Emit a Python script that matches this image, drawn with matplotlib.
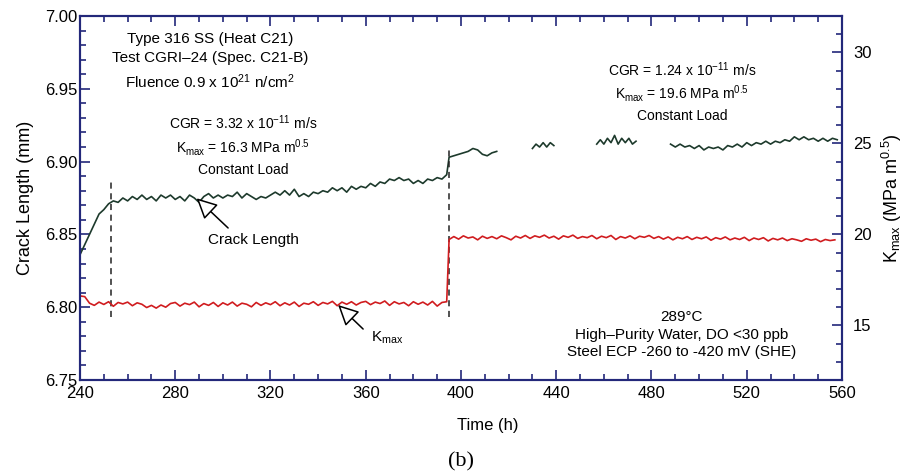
import numpy as np
import matplotlib
matplotlib.use("Agg")
import matplotlib.pyplot as plt
from matplotlib.ticker import MultipleLocator

plt.rcParams["font.family"] = ["Liberation Sans", "DejaVu Sans"]
plt.rcParams["mathtext.fontset"] = "custom"
plt.rcParams["mathtext.rm"] = "Liberation Sans"
plt.rcParams["mathtext.it"] = "Liberation Sans:italic"
plt.rcParams["mathtext.bf"] = "Liberation Sans:bold"

# crack length (mm), constant load at 16.3 MPa m^0.5
crack_time_1 = np.arange(240, 396, 2)
crack_len_1 = [
    6.836, 6.843, 6.850, 6.857, 6.864, 6.867, 6.871, 6.873, 6.872, 6.875,
    6.873, 6.876, 6.874, 6.877, 6.874, 6.876, 6.873, 6.877, 6.875, 6.877,
    6.874, 6.876, 6.873, 6.877, 6.875, 6.872, 6.876, 6.878, 6.875, 6.877,
    6.875, 6.877, 6.876, 6.879, 6.875, 6.878, 6.876, 6.874, 6.876, 6.875,
    6.877, 6.879, 6.877, 6.880, 6.877, 6.881, 6.876, 6.878, 6.876, 6.879,
    6.878, 6.880, 6.879, 6.882, 6.880, 6.882, 6.879, 6.883, 6.881, 6.883,
    6.882, 6.885, 6.883, 6.886, 6.885, 6.888, 6.887, 6.889, 6.887, 6.888,
    6.885, 6.887, 6.885, 6.888, 6.887, 6.889, 6.888, 6.891,
]
# after load increase to 19.6 MPa m^0.5 (data logger dropouts leave gaps)
crack_time_2 = np.arange(395, 417, 2)
crack_len_2 = [6.903, 6.904, 6.905, 6.906, 6.907, 6.909, 6.908, 6.905, 6.904, 6.906, 6.907]
crack_time_3 = np.arange(430, 440, 1.5)
crack_len_3 = [6.909, 6.912, 6.910, 6.913, 6.910, 6.913, 6.911]
crack_time_4 = np.arange(457, 475, 1.5)
crack_len_4 = [6.912, 6.915, 6.912, 6.916, 6.913, 6.918, 6.912, 6.916, 6.913, 6.916, 6.912, 6.914]
crack_time_5 = np.arange(488, 560, 2)
crack_len_5 = [
    6.912, 6.910, 6.912, 6.910, 6.911, 6.909, 6.911, 6.908, 6.910, 6.909,
    6.910, 6.908, 6.911, 6.910, 6.912, 6.910, 6.913, 6.911, 6.913, 6.912,
    6.914, 6.912, 6.914, 6.913, 6.915, 6.914, 6.917, 6.915, 6.917, 6.915,
    6.916, 6.914, 6.916, 6.914, 6.916, 6.915,
]

# Kmax (MPa m^0.5)
kmax_time_1 = np.arange(240, 396, 2)
kmax_1 = [
    16.62, 16.58, 16.22, 16.10, 16.28, 16.15, 16.30, 16.05, 16.26, 16.18,
    16.28, 16.08, 16.24, 16.16, 15.98, 16.10, 15.95, 16.12, 16.00, 16.20,
    16.26, 16.06, 16.22, 16.14, 16.28, 16.02, 16.20, 16.10, 16.26, 16.04,
    16.24, 16.12, 16.28, 16.06, 16.22, 16.16, 16.02, 16.26, 16.10, 16.24,
    16.14, 16.30, 16.08, 16.24, 16.12, 16.28, 16.04, 16.22, 16.16, 16.30,
    16.10, 16.26, 16.18, 16.32, 16.08, 16.28, 16.16, 16.30, 16.12, 16.26,
    16.32, 16.14, 16.28, 16.20, 16.34, 16.10, 16.30, 16.18, 16.26, 16.08,
    16.30, 16.16, 16.28, 16.12, 16.32, 16.06, 16.26, 16.30,
]
kmax_time_2 = np.arange(395, 559, 2)
kmax_2 = [
    19.72, 19.88, 19.74, 19.92, 19.80, 19.86, 19.70, 19.90, 19.78, 19.88,
    19.76, 19.92, 19.82, 19.70, 19.90, 19.80, 19.94, 19.78, 19.92, 19.84,
    19.96, 19.80, 19.90, 19.74, 19.92, 19.84, 19.96, 19.78, 19.88, 19.82,
    19.94, 19.76, 19.90, 19.82, 19.94, 19.72, 19.88, 19.80, 19.92, 19.76,
    19.90, 19.84, 19.94, 19.78, 19.88, 19.74, 19.86, 19.70, 19.84, 19.76,
    19.88, 19.72, 19.84, 19.76, 19.86, 19.68, 19.82, 19.74, 19.86, 19.70,
    19.80, 19.72, 19.84, 19.66, 19.80, 19.72, 19.82, 19.64, 19.78, 19.70,
    19.80, 19.66, 19.76, 19.70, 19.62, 19.76, 19.68, 19.74, 19.60, 19.72,
    19.66, 19.70,
]

# load changes
load_change_times = [253, 395]

NAVY = "#23287a"
CRACK_COLOR = "#1d3a2c"
KMAX_COLOR = "#d01c1f"

fig = plt.figure(figsize=(9.08, 4.76), dpi=100)
ax = fig.add_axes([0.0881, 0.2017, 0.8392, 0.7647])
ax2 = ax.twinx()

ax.plot(np.concatenate([crack_time_1, crack_time_2]), crack_len_1 + crack_len_2,
        color=CRACK_COLOR, lw=1.2)
for t, v in [(crack_time_3, crack_len_3), (crack_time_4, crack_len_4), (crack_time_5, crack_len_5)]:
    ax.plot(t, v, color=CRACK_COLOR, lw=1.2)

ax2.plot(np.concatenate([kmax_time_1, kmax_time_2]), kmax_1 + kmax_2,
         color=KMAX_COLOR, lw=1.2)

ax.vlines(load_change_times[0], 6.7935, 6.8875, colors="#222222", linestyles=(0, (4, 3)), lw=1.1)
ax.vlines(load_change_times[1], 6.7935, 6.909, colors="#222222", linestyles=(0, (4, 3)), lw=1.1)

ax.set_xlim(240, 560)
ax.set_ylim(6.75, 7.00)
ax2.set_ylim(12, 32)

ax.xaxis.set_major_locator(MultipleLocator(40))
ax.xaxis.set_minor_locator(MultipleLocator(10))
ax.yaxis.set_major_locator(MultipleLocator(0.05))
ax.yaxis.set_minor_locator(MultipleLocator(0.01))
ax.yaxis.set_major_formatter(plt.FormatStrFormatter("%.2f"))
ax2.yaxis.set_major_locator(MultipleLocator(5))
ax2.yaxis.set_minor_locator(MultipleLocator(1))

for a in (ax, ax2):
    for s in a.spines.values():
        s.set_color(NAVY)
        s.set_linewidth(1.5)
ax.tick_params(which="both", direction="in", color=NAVY, width=1.2,
               top=True, right=False, labelsize=12, pad=4)
ax.tick_params(which="major", length=7)
ax.tick_params(which="minor", length=4)
ax.tick_params(axis="y", pad=2)
ax2.tick_params(which="both", direction="in", color=NAVY, width=1.2, labelsize=12, pad=8)
ax2.tick_params(which="major", length=7)
ax2.tick_params(which="minor", length=4)

ax.set_xlabel("Time (h)", fontsize=12)
ax.xaxis.set_label_coords(0.535, -0.105)
ax.set_ylabel("Crack Length (mm)", fontsize=13, labelpad=8)
ax2.set_ylabel(r"K$_{\mathrm{max}}$ (MPa m$^{0.5}$)", fontsize=13, labelpad=6)

fs = 11
ax.text(294.6, 6.984, "Type 316 SS (Heat C21)", ha="center", va="center", fontsize=fs)
ax.text(294.6, 6.971, "Test CGRI–24 (Spec. C21-B)", ha="center", va="center", fontsize=fs)
ax.text(294.6, 6.955, r"Fluence 0.9 x 10$^{21}$ n/cm$^{2}$", ha="center", va="center", fontsize=fs)

ax.text(308.5, 6.9265, r"CGR = 3.32 x 10$^{-11}$ m/s", ha="center", va="center", fontsize=10)
ax.text(308.5, 6.910, r"K$_{\mathrm{max}}$ = 16.3 MPa m$^{0.5}$", ha="center", va="center", fontsize=10)
ax.text(308.5, 6.894, "Constant Load", ha="center", va="center", fontsize=10)

ax.text(492.8, 6.963, r"CGR = 1.24 x 10$^{-11}$ m/s", ha="center", va="center", fontsize=10)
ax.text(492.8, 6.947, r"K$_{\mathrm{max}}$ = 19.6 MPa m$^{0.5}$", ha="center", va="center", fontsize=10)
ax.text(492.8, 6.931, "Constant Load", ha="center", va="center", fontsize=10)

ax.text(492.8, 6.7933, "289°C", ha="center", va="center", fontsize=fs)
ax.text(492.8, 6.781, "High–Purity Water, DO <30 ppb", ha="center", va="center", fontsize=fs)
ax.text(492.8, 6.769, "Steel ECP -260 to -420 mV (SHE)", ha="center", va="center", fontsize=fs)

arrow = dict(arrowstyle="-|>,head_length=0.9,head_width=0.45", fc="white", ec="black",
             lw=1.1, mutation_scale=14, shrinkA=0, shrinkB=0)
ax.annotate("", xy=(289.0, 6.8748), xytext=(302.2, 6.8544), arrowprops=arrow)
ax.text(312.7, 6.846, "Crack Length", ha="center", va="center", fontsize=fs)
ax2.annotate("", xy=(348.4, 16.12), xytext=(358.9, 14.80), arrowprops=arrow)
ax2.text(369, 14.3, r"K$_{\mathrm{max}}$", ha="center", va="center", fontsize=fs)

fig.text(0.508, 0.030, "(b)", ha="center", va="center", fontsize=16,
         family=["Liberation Serif", "DejaVu Serif"])

fig.savefig("out.png", dpi=100)
